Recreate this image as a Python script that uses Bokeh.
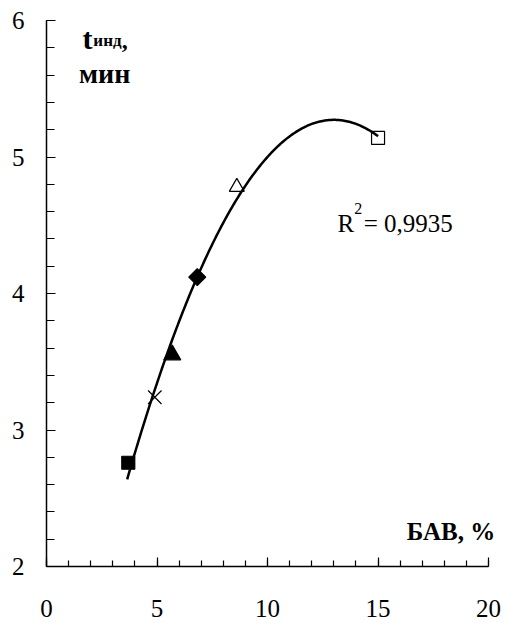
import numpy as np
from bokeh.plotting import figure
from bokeh.models import FixedTicker, ColumnDataSource, Label
from bokeh.embed import file_html
from bokeh.resources import INLINE

# data
bav = [3.70, 4.90, 5.69, 6.82, 8.61, 15.0]
t_ind = [2.76, 3.24, 3.55, 4.12, 4.78, 5.14]
marker_types = ["square", "x", "triangle", "square", "triangle", "square"]
x_ticks = [0, 5, 10, 15, 20]
x_minor = list(range(0, 21))
y_ticks = [2, 3, 4, 5, 6]
y_minor = [round(2 + 0.2 * i, 1) for i in range(21)]
r2_text = "0,9935"

FONT = "Liberation Serif"

# marker styles
fill_alpha = [1, 1, 1, 1, 0, 0]
sizes = [13, 19, 17, 12, 15, 13]
angles = [0, 0, 0, np.pi / 4, 0, 0]

src = ColumnDataSource(dict(x=bav, y=t_ind, marker=marker_types, fa=fill_alpha,
                            size=sizes, angle=angles))

# polynomial (2nd order) trendline fitted to the points
coef = np.polyfit(bav, t_ind, 2)
xs = np.linspace(min(bav) - 0.05, max(bav), 200)
ys = np.polyval(coef, xs)

# frame extends a little past x=20 so the axis title is not clipped;
# the axis itself is bounded to 0..20
p = figure(width=506, height=623, output_backend="svg", toolbar_location=None,
           x_range=(0, 20.54), y_range=(2, 6),
           min_border_left=46, min_border_right=6, min_border_top=20,
           min_border_bottom=57)
p.outline_line_color = None
p.grid.visible = False
p.background_fill_color = "white"

p.line(xs, ys, line_color="black", line_width=2.5)
p.scatter("x", "y", source=src, marker="marker", size="size", angle="angle",
          fill_color="black", fill_alpha="fa", line_color="black", line_width=1.2)

# axes
p.xaxis.ticker = FixedTicker(ticks=x_ticks, minor_ticks=x_minor)
p.yaxis.ticker = FixedTicker(ticks=y_ticks, minor_ticks=y_minor)
p.xaxis.bounds = (0, 20)
for ax in (p.xaxis, p.yaxis):
    ax.axis_line_color = "black"
    ax.axis_line_width = 1.5
    ax.major_tick_line_color = "black"
    ax.minor_tick_line_color = "black"
    ax.major_tick_line_width = 1.2
    ax.minor_tick_line_width = 1.2
    ax.major_tick_out = 0
    ax.minor_tick_out = 0
    ax.major_label_text_font = FONT
    ax.major_label_text_font_size = "25px"
    ax.major_label_text_color = "black"
p.xaxis.major_tick_in = 9
p.xaxis.minor_tick_in = 6
p.yaxis.major_tick_in = 9
p.yaxis.minor_tick_in = 8
p.xaxis.major_label_standoff = 33
p.xaxis.major_label_text_line_height = 1.0
p.yaxis.major_label_standoff = 22


def add_text(x, y, txt, size, bold=False):
    p.add_layout(Label(x=x, y=y, text=txt, text_font=FONT, text_font_size=size,
                       text_font_style="bold" if bold else "normal",
                       text_color="black", text_baseline="alphabetic",
                       text_align="left"))


# axis titles / annotations
add_text(1.63, 5.87, "t", "30px", True)
add_text(2.12, 5.85, "инд", "17px", True)
add_text(3.40, 5.85, ",", "24px", True)
add_text(1.47, 5.61, "мин", "28px", True)
add_text(16.3, 2.26, "БАВ, %", "25px", True)

add_text(13.17, 4.51, "R", "25px")
add_text(13.92, 4.62, "2", "16px")
add_text(14.35, 4.51, "= " + r2_text, "25px")

open("out.html", "w").write(file_html(p, INLINE))
